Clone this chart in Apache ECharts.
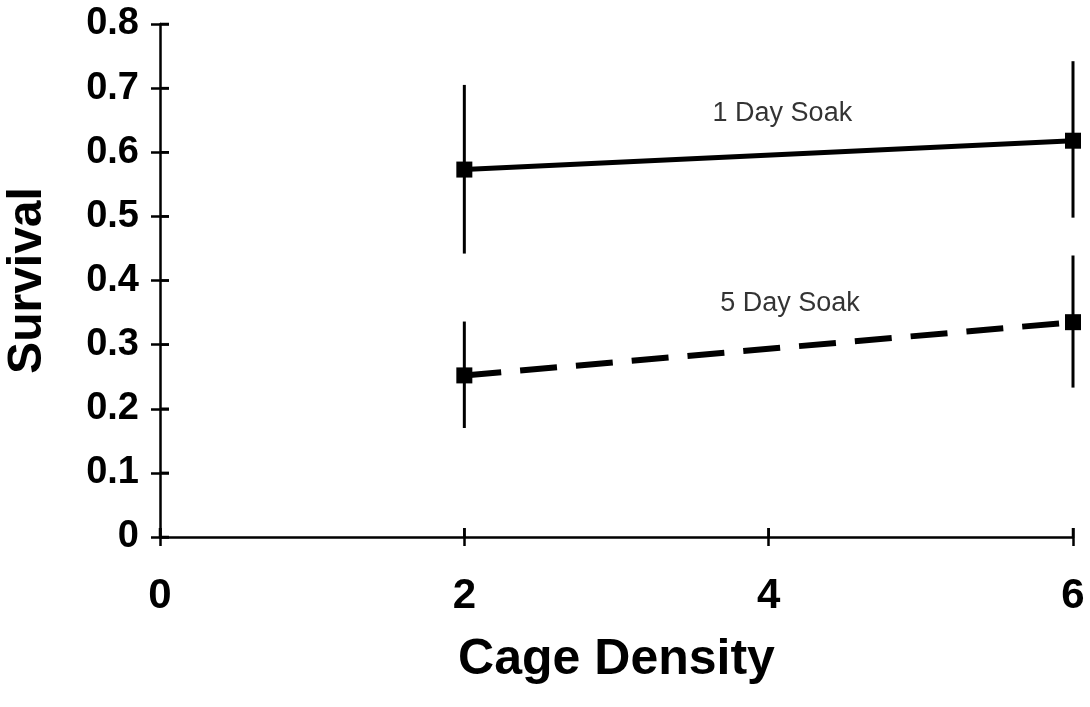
<!DOCTYPE html>
<html>
<head>
<meta charset="utf-8">
<script src="https://cdn.jsdelivr.net/npm/echarts@6/dist/echarts.min.js"></script>
<style>html,body{margin:0;padding:0;background:#fff}#c{width:1090px;height:707px}</style>
</head>
<body>
<div id="c"></div>
<script>
// Data
const densities = [2, 6];
const oneDayMean = [0.573, 0.618];
const oneDayLow  = [0.442, 0.498];
const oneDayHigh = [0.705, 0.742];
const fiveDayMean = [0.252, 0.335];
const fiveDayLow  = [0.170, 0.233];
const fiveDayHigh = [0.336, 0.439];
const yTicks = [0, 0.1, 0.2, 0.3, 0.4, 0.5, 0.6, 0.7, 0.8];
const xTicks = [0, 2, 4, 6];
const annotations = [
  {text: '1 Day Soak', x: 4.09, y: 0.66},
  {text: '5 Day Soak', x: 4.14, y: 0.364}
];

const chart = echarts.init(document.getElementById('c'), null, {renderer: 'canvas'});
const labelFont = 'Liberation Sans';

function pts(xs, ys) { return xs.map((x, i) => [x, ys[i]]); }
function errData(xs, lo, hi) { return xs.map((x, i) => [x, lo[i], hi[i]]); }

const errRender = function (params, api) {
  const x = api.value(0);
  const p1 = api.coord([x, api.value(1)]);
  const p2 = api.coord([x, api.value(2)]);
  return {
    type: 'line',
    shape: {x1: p1[0], y1: p1[1], x2: p2[0], y2: p2[1]},
    style: {stroke: '#000', lineWidth: 3}
  };
};

// inner half of the tick marks (ticks cross the axis lines in the reference)
const TICK = 9;
const innerTickRender = function (params, api) {
  const p = api.coord([api.value(0), api.value(1)]);
  const vertical = api.value(2) < 0.5;
  const shape = vertical
    ? {x1: p[0], y1: p[1], x2: p[0], y2: p[1] - TICK}
    : {x1: p[0], y1: p[1], x2: p[0] + TICK, y2: p[1]};
  return {type: 'line', shape: shape, style: {stroke: '#000', lineWidth: 2.5}};
};
const innerTickData = xTicks.map(v => [v, 0, 0]).concat(yTicks.map(v => [0, v, 1]));

// tick half-lengths expressed in axis units (for markLine fallback)
const X_MIN = 0, X_MAX = 6, Y_MIN = 0, Y_MAX = 0.8;
const plotW = 1090 - 160 - 17, plotH = 707 - 24 - 170;
const dxTick = TICK * (X_MAX - X_MIN) / plotW;
const dyTick = TICK * (Y_MAX - Y_MIN) / plotH;
const tickMarkLines = xTicks.map(v => [{coord: [v, Y_MIN]}, {coord: [v, Y_MIN + dyTick]}])
  .concat(yTicks.map(v => [{coord: [X_MIN, v]}, {coord: [X_MIN + dxTick, v]}]));

const tickStyle = {color: '#000', width: 2.5};

chart.setOption({
  animation: false,
  backgroundColor: '#fff',
  grid: {left: 160, right: 17, top: 24, bottom: 170, containLabel: false, outerBoundsMode: 'none'},
  xAxis: {
    type: 'value', min: X_MIN, max: X_MAX, interval: 2,
    axisLine: {show: true, lineStyle: {color: '#000', width: 2.5}},
    axisTick: {show: true, length: TICK, lineStyle: tickStyle},
    splitLine: {show: false},
    axisLabel: {margin: 38, color: '#000', fontFamily: labelFont, fontWeight: 'bold', fontSize: 42,
      formatter: v => xTicks.indexOf(v) >= 0 ? String(v) : ''},
    name: 'Cage Density', nameLocation: 'middle', nameGap: 98,
    nameTextStyle: {color: '#000', fontFamily: labelFont, fontWeight: 'bold', fontSize: 50}
  },
  yAxis: {
    type: 'value', min: Y_MIN, max: Y_MAX, interval: 0.1,
    axisLine: {show: true, lineStyle: {color: '#000', width: 2.5}},
    axisTick: {show: true, length: TICK, lineStyle: tickStyle},
    splitLine: {show: false},
    axisLabel: {margin: 21, color: '#000', fontFamily: labelFont, fontWeight: 'bold', fontSize: 38,
      formatter: v => { const t = yTicks.find(k => Math.abs(k - v) < 1e-9); return t === undefined ? '' : (t === 0 ? '0' : t.toFixed(1)); }},
    name: 'Survival', nameLocation: 'middle', nameGap: 108, nameRotate: 90,
    nameTextStyle: {color: '#000', fontFamily: labelFont, fontWeight: 'bold', fontSize: 48}
  },
  series: [
    {
      type: 'custom', renderItem: errRender, data: errData(densities, oneDayLow, oneDayHigh),
      encode: {x: 0, y: [1, 2]}, z: 2, silent: true
    },
    {
      type: 'custom', renderItem: errRender, data: errData(densities, fiveDayLow, fiveDayHigh),
      encode: {x: 0, y: [1, 2]}, z: 2, silent: true
    },
    {
      name: '1 Day Soak', type: 'line', data: pts(densities, oneDayMean),
      symbol: 'rect', symbolSize: 16, showSymbol: true,
      lineStyle: {color: '#000', width: 5},
      itemStyle: {color: '#000'}, z: 3,
      markLine: {
        silent: true, symbol: ['none', 'none'], animation: false,
        label: {show: false}, emphasis: {disabled: true},
        lineStyle: {color: '#000', width: 2.5, type: 'solid'},
        data: tickMarkLines
      }
    },
    {
      name: '5 Day Soak', type: 'line', data: pts(densities, fiveDayMean),
      symbol: 'rect', symbolSize: 16, showSymbol: true,
      lineStyle: {color: '#000', width: 6, type: [37, 19]},
      itemStyle: {color: '#000'}, z: 3
    },
    {
      type: 'scatter', silent: true, z: 4,
      data: annotations.map(a => ({value: [a.x, a.y], name: a.text})),
      symbol: 'circle', symbolSize: 1,
      itemStyle: {color: 'rgba(0,0,0,0)'},
      label: {show: true, position: 'inside', formatter: p => p.name,
        color: '#000', fontFamily: labelFont, fontSize: 27}
    },
    {
      type: 'custom', renderItem: innerTickRender, data: innerTickData,
      encode: {x: 0, y: 1}, z: 10, silent: true
    }
  ]
});
</script>
</body>
</html>
